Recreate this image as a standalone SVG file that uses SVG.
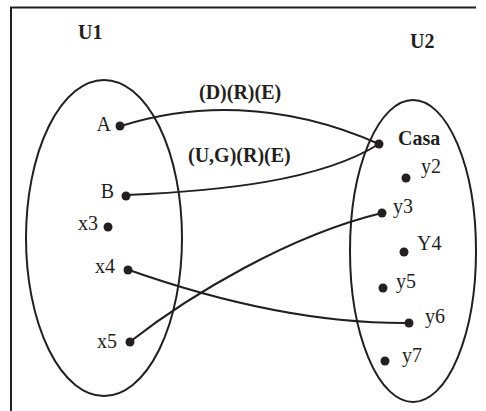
<svg xmlns="http://www.w3.org/2000/svg" width="486" height="411" viewBox="0 0 486 411">
<style>
.ln{fill:none;stroke:#231f20;stroke-width:2}
.dot{fill:#231f20}
.t{font-family:"Liberation Serif","Times New Roman",serif;font-size:20px;fill:#231f20}
.b{font-weight:bold}
.e{text-anchor:end}
</style>
<rect width="486" height="411" fill="#fff"/>
<g id="frame">
<path class="ln" d="M11,411 V7.5 H476" stroke-width="2.5"/>
</g>
<g id="U1">
<ellipse class="ln" cx="104" cy="238" rx="78" ry="158"/>
<text class="t b" x="78" y="39" font-size="19">U1</text>
</g>
<g id="U2">
<ellipse class="ln" cx="413" cy="251" rx="63" ry="151"/>
<text class="t b" x="410" y="48" font-size="19">U2</text>
</g>
<g id="connectors">
<path class="ln" d="M121,126 C190,104 280,100 379,144"/>
<path class="ln" d="M127,195 C220,191 320,181 379,144"/>
<path class="ln" d="M129,270 C200,295 300,324 409,323"/>
<path class="ln" d="M131,341 C190,295 290,235 382,213"/>
<text class="t b" x="199" y="99">(D)(R)(E)</text>
<text class="t b" x="188" y="162">(U,G)(R)(E)</text>
</g>
<g id="A"><circle class="dot" cx="120" cy="126" r="4.5"/><text class="t e" x="111" y="131">A</text></g>
<g id="B"><circle class="dot" cx="126" cy="196" r="4.5"/><text class="t e" x="114" y="198">B</text></g>
<g id="x3"><circle class="dot" cx="108" cy="227" r="4.5"/><text class="t e" x="98" y="230">x3</text></g>
<g id="x4"><circle class="dot" cx="128" cy="270" r="4.5"/><text class="t e" x="115" y="273">x4</text></g>
<g id="x5"><circle class="dot" cx="130" cy="342" r="4.5"/><text class="t e" x="117" y="348">x5</text></g>
<g id="Casa"><circle class="dot" cx="379" cy="144" r="4.5"/><text class="t b" x="398" y="145">Casa</text></g>
<g id="y2"><circle class="dot" cx="406" cy="178" r="4.5"/><text class="t" x="421" y="173">y2</text></g>
<g id="y3"><circle class="dot" cx="382" cy="213" r="4.5"/><text class="t" x="393" y="213">y3</text></g>
<g id="Y4"><circle class="dot" cx="404" cy="252" r="4.5"/><text class="t" x="417" y="250">Y4</text></g>
<g id="y5"><circle class="dot" cx="383" cy="288" r="4.5"/><text class="t" x="396" y="288">y5</text></g>
<g id="y6"><circle class="dot" cx="409" cy="323" r="4.5"/><text class="t" x="425" y="323">y6</text></g>
<g id="y7"><circle class="dot" cx="385" cy="361" r="4.5"/><text class="t" x="402" y="362">y7</text></g>
</svg>
